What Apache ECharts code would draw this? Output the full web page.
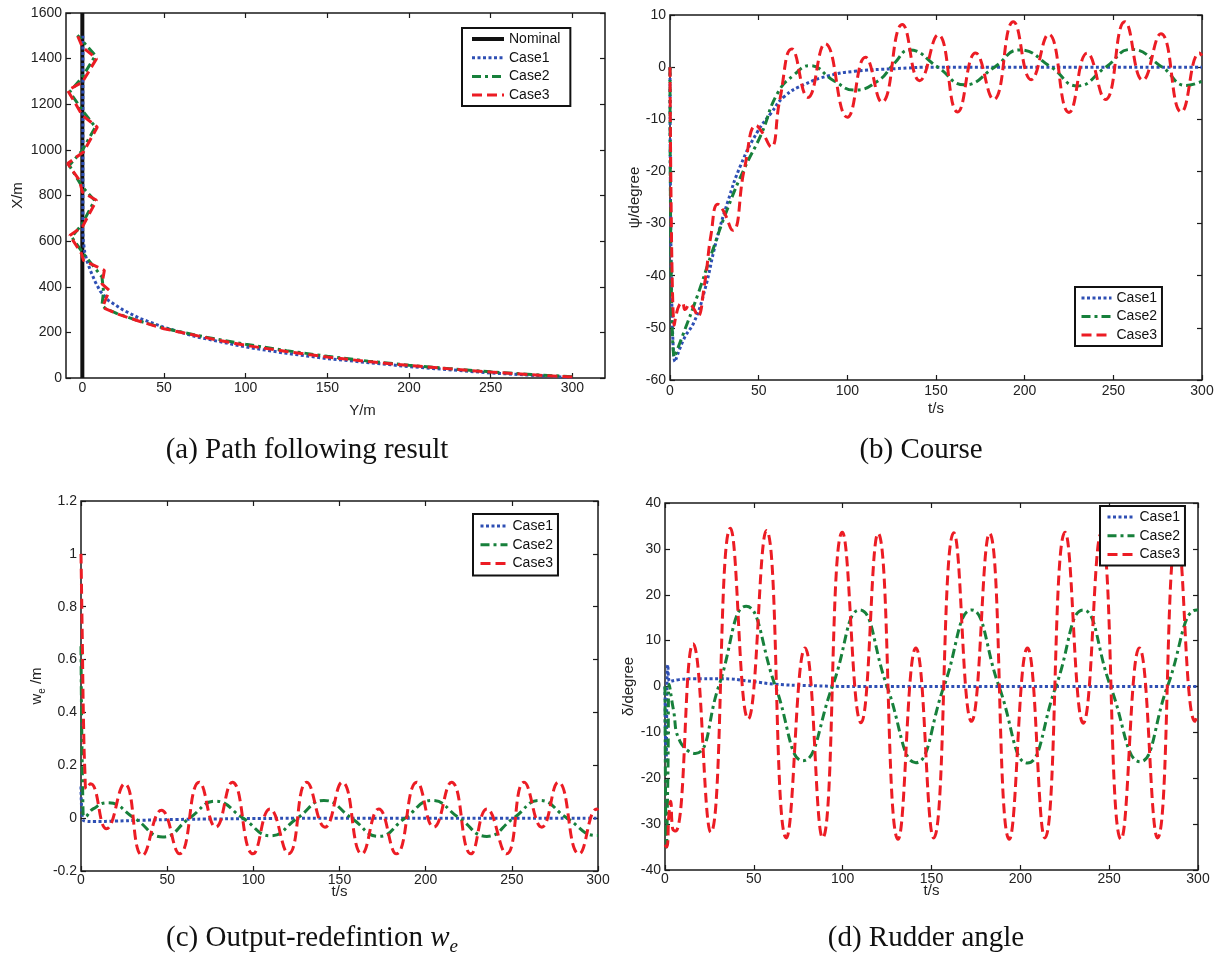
<!DOCTYPE html>
<html>
<head>
<meta charset="utf-8">
<title>Path following simulation</title>
<script src="https://cdn.jsdelivr.net/npm/echarts@6/dist/echarts.min.js"></script>
<style>
  html, body { margin: 0; padding: 0; background: #fff; }
  #main { width: 1223px; height: 956px; }
</style>
</head>
<body>
<div id="main"></div>
<script>
// (a) path following, points are [Y (m), X (m)]
const nominalPath = [[0, 0], [0, 1600]];
const pathCase1 = [[300, 2], [250, 22], [200, 50], [150, 85], [125, 108], [100, 136], [70, 180], [50, 222], [35, 262], [25, 298],
  [16, 340], [11, 380], [8, 420], [5, 470], [3, 510], [1.5, 550], [0.6, 600], [0.2, 650], [0.3, 706], [0.3, 1500]];
const pathCase2 = [[300, 6], [275, 15], [250, 27], [225, 41], [200, 56], [175, 74], [150, 95], [125, 120], [100, 148], [75, 180],
  [50, 218], [33, 254], [21, 283], [14, 306], [12, 318], [13, 380], [12, 443], [0.7, 545], [-6.5, 618], [0, 676], [7.5, 779],
  [0, 837], [-8, 932], [0, 998], [8, 1100], [0, 1173], [-7.7, 1254], [0, 1319], [8, 1414], [-3, 1502]];
const pathCase3 = [[300, 4], [275, 14], [250, 26], [225, 40], [200, 55], [175, 72], [150, 92], [125, 116], [100, 143], [85, 163],
  [69, 187], [50, 216], [33, 253], [21, 282], [14, 304], [12.5, 312], [16.5, 384], [12, 413], [13.5, 472], [0.7, 516], [-0.5, 545],
  [-7.7, 625], [0, 662], [8.7, 779], [0, 815], [-1.7, 866], [-9, 940], [0.7, 991], [9.2, 1100], [0, 1151], [-3, 1188],
  [-9, 1261], [0, 1297], [8.7, 1400], [0, 1451], [-3, 1502]];
const pathYTicks = [0, 50, 100, 150, 200, 250, 300];

// (b) course psi (degree) vs t (s)
const courseCase1 = [[0, 0], [2.8, -56.5], [8, -52], [13.7, -48.8], [19.4, -43], [26, -33.5], [32.6, -25.8], [40, -18.7],
  [49.5, -12.3], [57, -8.8], [64.6, -5.6], [75.9, -3.3], [89, -1.7], [104, -0.8], [126.7, -0.3], [150, 0], [300, 0]];
const courseCase2 = [[0, 0], [2.4, -55.6], [7.2, -51.4], [15.6, -43.7], [23.2, -36], [32.6, -27], [42, -19.4], [51.4, -12.9],
  [60.8, -4.9], [70.2, -1.4], [78.7, 0.3], [92.8, -2.7], [104, -4.4], [117, -2.7], [126.7, 0.8], [135, 3.3], [151, 0],
  [166, -3.4], [183, 0], [197, 3.3], [215, 0], [229.6, -3.6], [245.7, 0], [260, 3.4], [277.6, 0], [291, -3.5], [300, -2.7]];
const courseCase3 = [[0, 0], [2.4, -49.5], [3.5, -47.5], [5.3, -45.6], [7, -45.2], [8.5, -46.5], [11, -45.5], [13.7, -46.5],
  [15.6, -47.8], [19.4, -41.8], [23.2, -32], [26.9, -26.3], [30, -27.5], [35.4, -31.3], [42, -19.4], [48.6, -11.2], [52, -12.5],
  [57, -15.3], [61.8, -6.5], [68.7, 3.5], [77.8, -5.8], [87.5, 4.5], [100, -9.6], [110.2, 1.9], [119.5, -6.7], [131, 8.2],
  [140.8, -2.6], [151.2, 6.2], [162.2, -8.6], [172.3, 2.7], [182.5, -6.2], [193.6, 8.7], [203.7, -2.4], [213.5, 6.3],
  [225, -8.7], [235.3, 2.7], [245.5, -6.2], [256.5, 8.7], [266.6, -2.5], [276.8, 6.4], [288.3, -8.6], [298.5, 2.7], [300, 2.2]];

// (c) output redefinition w_e (m) vs t (s)
const weCase1 = [[0, 0.12], [0.8, 0], [3, -0.012], [8, -0.013], [20, -0.011], [35, -0.008], [55, -0.005], [80, -0.003],
  [110, -0.001], [150, 0], [300, 0]];
const weCase2 = [[0, 0.65], [1.2, 0.02], [2, 0.005], [7, 0.035], [15.5, 0.058], [31, 0], [47.5, -0.071], [63, 0], [78, 0.064],
  [94, 0], [110, -0.067], [125.5, 0], [141, 0.067], [157, 0], [172.8, -0.069], [188, 0], [203.6, 0.067], [219.5, 0],
  [235.5, -0.069], [251, 0], [266.2, 0.067], [282, 0], [299.3, -0.066], [300, -0.066]];
const weCase3 = [[0, 1.0], [0.7, 0.7], [1.5, 0.35], [2.3, 0.17], [3, 0.11], [5.5, 0.13], [14.8, -0.04], [25.3, 0.13],
  [35.6, -0.141], [46.7, 0.03], [57.2, -0.135], [68.6, 0.136], [78.2, -0.034], [87.8, 0.136], [99.8, -0.135], [109.6, 0.035],
  [120.4, -0.135], [131, 0.136], [141.6, -0.034], [151.6, 0.136], [163, -0.135], [172.8, 0.035], [183, -0.135], [194.9, 0.136],
  [204.7, -0.034], [215, 0.136], [226.3, -0.135], [235.5, 0.035], [246.9, -0.135], [257.1, 0.136], [267.4, -0.034],
  [277, 0.136], [289, -0.135], [299.3, 0.035], [300, 0.03]];

// (d) rudder angle delta (degree) vs t (s)
const rudderCase1 = [[0, 0], [0.6, -16], [1.6, 4.7], [2.6, 1.1], [8, 1.5], [16, 1.7], [31, 1.7], [49, 1.1], [62, 0.5],
  [80, 0.2], [110, 0], [300, 0]];
const rudderCase2 = [[0, 0], [0.8, -35], [1.6, -20], [2.4, 0.5], [4.7, -5], [8.5, -12], [17, -14.6], [30.2, 0], [45.7, 17.5],
  [62.2, 0], [77.7, -16.2], [94.2, 0], [109.6, 16.7], [125, 0], [141.2, -16.6], [157, 0], [172.5, 16.7], [188, 0],
  [204, -16.7], [220, 0], [235.4, 16.7], [250.8, 0], [267.4, -16.4], [282.8, 0], [299.4, 16.7], [300, 16.7]];
const rudderCase3 = [[0, -34.5], [1, -35], [2.2, -28], [3.2, -25], [4.3, -31], [6, -31.5], [15.8, 9.3], [25.8, -31.8],
  [36.8, 34.5], [46.8, -7.1], [57.1, 34], [68.3, -33], [78.8, 8.4], [88.7, -33], [99.8, 33.6], [110.3, -7.9], [119.9, 33.4],
  [131.2, -33.3], [141.2, 8.4], [151.2, -33], [162.6, 33.5], [172.5, -7.6], [182.6, 33.4], [193.8, -33.3], [204, 8.4],
  [213.8, -33], [225.2, 33.6], [235.4, -8], [245.4, 33.3], [256.7, -33.3], [267, 8.4], [277.2, -33], [288.2, 33.3],
  [298.3, -7.6], [300, -5.8]];

const FONT = '"Liberation Sans", Arial, sans-serif';
const SERIF = '"Liberation Serif", "Times New Roman", serif';
const INK = '#1a1a1a';

const styles = {
  Nominal: { color: '#111111', width: 4, type: 'solid' },
  Case1: { color: '#2e4fb4', width: 3, type: [3, 2.5] },
  Case2: { color: '#17803b', width: 3, type: [9, 4, 3, 4] },
  Case3: { color: '#ec1c24', width: 3, type: [10, 5] }
};

const grids = [
  { left: 66, top: 13, width: 539, height: 365 },
  { left: 670, top: 15, width: 532, height: 365 },
  { left: 81, top: 501, width: 517, height: 370 },
  { left: 665, top: 503, width: 533, height: 367 }
].map(g => Object.assign({
  show: true, borderColor: INK, borderWidth: 1.5, containLabel: false, outerBoundsMode: 'none'
}, g));

const plainNumber = v => String(Math.round(v * 1e6) / 1e6);

// one labelled axis plus a mirrored tick-only axis (MATLAB box style)
function axisPair(gi, dir, spec) {
  const ticks = { show: true, inside: true, length: 5, lineStyle: { color: INK, width: 1.2 } };
  if (spec.ticks) ticks.customValues = spec.ticks;
  const base = {
    type: 'value', gridIndex: gi, min: spec.min, max: spec.max,
    axisLine: { show: false, onZero: false }, splitLine: { show: false }, axisTick: ticks
  };
  if (spec.interval) base.interval = spec.interval;
  const label = { color: '#222', fontSize: 14, fontFamily: FONT, margin: spec.margin || 4, formatter: plainNumber };
  if (spec.ticks) label.customValues = spec.ticks;
  const main = Object.assign({}, base, {
    position: dir === 'x' ? 'bottom' : 'left',
    name: spec.name, nameLocation: 'middle', nameGap: spec.nameGap, nameMoveOverlap: false,
    nameTextStyle: Object.assign({ color: '#222', fontSize: 15, fontFamily: FONT }, spec.nameStyle || {}),
    axisLabel: label
  });
  const mirror = Object.assign({}, base, {
    position: dir === 'x' ? 'top' : 'right', axisLabel: { show: false }
  });
  return [main, mirror];
}

const xAxis = [].concat(
  axisPair(0, 'x', { min: -10, max: 320, ticks: pathYTicks, name: 'Y/m', nameGap: 25, margin: 3,
    nameStyle: { padding: [0, 0, 0, 54] } }),
  axisPair(1, 'x', { min: 0, max: 300, interval: 50, name: 't/s', nameGap: 21 }),
  axisPair(2, 'x', { min: 0, max: 300, interval: 50, name: 't/s', nameGap: 13, margin: 2 }),
  axisPair(3, 'x', { min: 0, max: 300, interval: 50, name: 't/s', nameGap: 13, margin: 2 })
);
const yAxis = [].concat(
  axisPair(0, 'y', { min: 0, max: 1600, interval: 200, name: 'X/m', nameGap: 41 }),
  axisPair(1, 'y', { min: -60, max: 10, interval: 10, name: 'ψ/degree', nameGap: 28 }),
  axisPair(2, 'y', { min: -0.2, max: 1.2, interval: 0.2, name: '{w|w}{e|e}{w| /m}', nameGap: 34,
    nameStyle: { rich: {
      w: { fontSize: 15, fontFamily: FONT, color: '#222', lineHeight: 20, verticalAlign: 'middle' },
      e: { fontSize: 10, fontFamily: FONT, color: '#222', lineHeight: 12, verticalAlign: 'bottom' }
    } } }),
  axisPair(3, 'y', { min: -40, max: 40, interval: 10, name: 'δ/degree', nameGap: 29 })
);

function line(name, data, gi, smooth) {
  const s = styles[name];
  return {
    type: 'line', name: name, data: data, xAxisIndex: 2 * gi, yAxisIndex: 2 * gi,
    symbol: 'none', smooth: smooth ? 0.5 : false, color: s.color, silent: true,
    lineStyle: { color: s.color, width: s.width, type: s.type, cap: 'butt' }
  };
}

const series = [
  line('Nominal', nominalPath, 0, false),
  line('Case1', pathCase1, 0, false),
  line('Case2', pathCase2, 0, false),
  line('Case3', pathCase3, 0, false),
  line('Case1', courseCase1, 1, true),
  line('Case2', courseCase2, 1, true),
  line('Case3', courseCase3, 1, true),
  line('Case1', weCase1, 2, true),
  line('Case2', weCase2, 2, true),
  line('Case3', weCase3, 2, true),
  line('Case1', rudderCase1, 3, true),
  line('Case2', rudderCase2, 3, true),
  line('Case3', rudderCase3, 3, true)
];

function legendBox(names, left, top, padding, itemWidth, gap) {
  return {
    data: names.map(n => ({ name: n, lineStyle: { width: styles[n].width } })),
    orient: 'vertical', left: left, top: top, padding: padding,
    itemWidth: itemWidth, itemHeight: 14, itemGap: gap, selectedMode: false,
    borderColor: '#111', borderWidth: 2, backgroundColor: '#fff',
    lineStyle: { width: 3 },
    // hide the marker dot, keep the dashed line sample
    itemStyle: { color: 'rgba(0,0,0,0)', borderColor: 'rgba(0,0,0,0)', borderWidth: 0, opacity: 0 },
    textStyle: { color: '#111', fontSize: 14, fontFamily: FONT }
  };
}

const cases = ['Case1', 'Case2', 'Case3'];
const captionStyle = { font: '29px ' + SERIF, fill: '#111', align: 'center', verticalAlign: 'middle' };

const option = {
  animation: false,
  backgroundColor: '#fff',
  textStyle: { fontFamily: FONT },
  grid: grids,
  xAxis: xAxis,
  yAxis: yAxis,
  legend: [
    legendBox(['Nominal'].concat(cases), 462, 28, [4, 10, 4, 8], 32, 4.7),
    legendBox(cases, 1075, 287, [4, 5, 4, 5], 30, 4.5),
    legendBox(cases, 473, 514, [5, 5, 5, 6], 27, 4.8),
    legendBox(cases, 1100, 506, [4, 5, 4, 6], 27, 4.8)
  ],
  series: series,
  graphic: [
    { type: 'text', x: 307, y: 450, style: Object.assign({ text: '(a) Path following result' }, captionStyle) },
    { type: 'text', x: 921, y: 450, style: Object.assign({ text: '(b) Course' }, captionStyle) },
    { type: 'text', x: 312, y: 938, style: Object.assign({}, captionStyle, {
      text: '{n|(c) Output-redefintion }{w|w}{e|e}',
      rich: {
        n: { font: '29px ' + SERIF, fill: '#111', lineHeight: 36, verticalAlign: 'middle' },
        w: { font: 'italic 29px ' + SERIF, fill: '#111', lineHeight: 36, verticalAlign: 'middle' },
        e: { font: 'italic 19px ' + SERIF, fill: '#111', lineHeight: 20, verticalAlign: 'bottom' }
      }
    }) },
    { type: 'text', x: 926, y: 938, style: Object.assign({ text: '(d) Rudder angle' }, captionStyle) }
  ]
};

const chart = echarts.init(document.getElementById('main'));
chart.setOption(option);
</script>
</body>
</html>
